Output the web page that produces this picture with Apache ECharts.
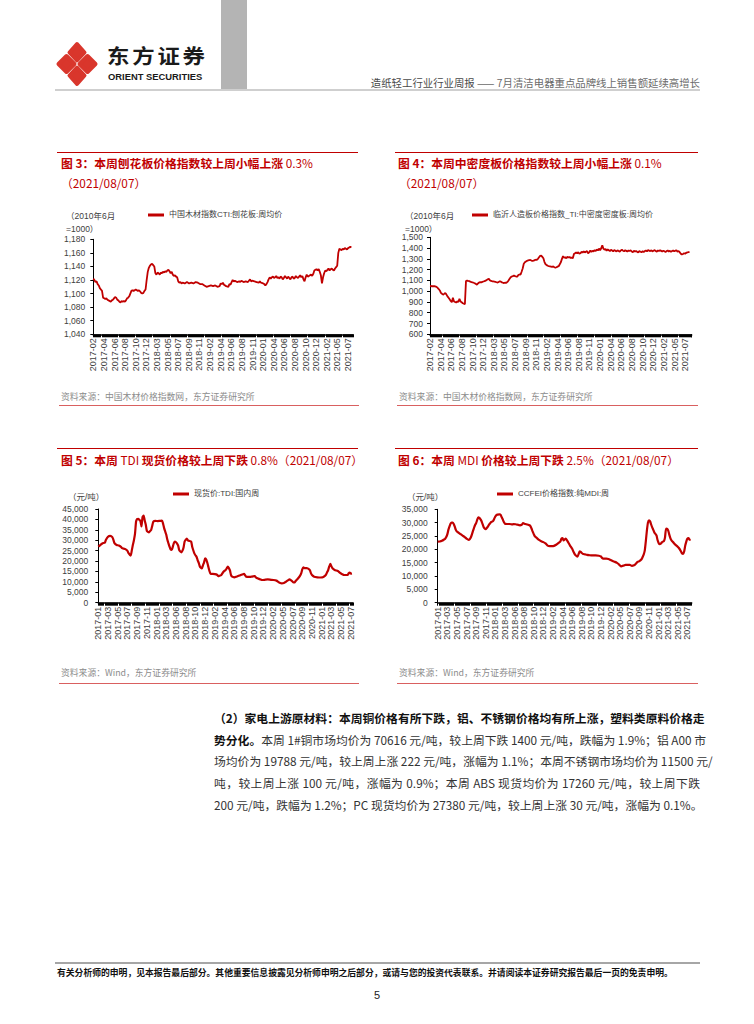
<!DOCTYPE html>
<html><head><meta charset="utf-8">
<script src="https://cdn.jsdelivr.net/npm/echarts@6/dist/echarts.min.js"></script>
<style>
html,body{margin:0;padding:0;background:#fff;}
#page{position:relative;width:754px;height:1024px;overflow:hidden;font-family:'Noto Sans CJK SC','Liberation Sans',sans-serif;color:#222;}
.abs{position:absolute;white-space:nowrap;}
.ttl{font-size:11.8px;line-height:20px;color:#C00000;}
.ttl b{font-weight:700;}
.src{font-size:8.8px;line-height:12px;color:#8c8c8c;}
.rline{position:absolute;height:1px;background:#C00000;}
.bline{position:absolute;height:1px;background:#d96060;}
.para{position:absolute;left:214px;width:486px;font-size:11.8px;line-height:21.7px;color:#333;text-align:justify;text-align-last:justify;white-space:nowrap;}
.chart{position:absolute;}
</style></head>
<body><div id="page">

<!-- header -->
<svg class="abs" style="left:55px;top:40px" width="46" height="48" viewBox="0 0 46 48">
  <g fill="#d9362c" stroke="#d9362c" stroke-width="4" stroke-linejoin="round">
    <polygon points="22,4 29.5,12.5 22,20.5 14.5,12.5"/>
    <polygon points="32.5,16 40.5,24 32.5,32 24.5,24"/>
    <polygon points="22,27.5 29.5,35.5 22,44 14.5,35.5"/>
    <polygon points="11.5,16 19.5,24 11.5,32 3.5,24"/>
  </g>
</svg>
<div class="abs" style="left:107px;top:46.3px;font-size:20px;line-height:20px;font-weight:700;letter-spacing:2.5px;color:#1a1a1a;transform:scaleX(1.12);transform-origin:left center;">东方证券</div>
<div class="abs" style="left:108px;top:71.7px;font-size:9.4px;line-height:9.4px;font-weight:700;font-family:'Liberation Sans',sans-serif;color:#1a1a1a;">ORIENT SECURITIES</div>
<div class="abs" style="left:221px;top:0;width:26px;height:89px;background:#b4b4b4;"></div>
<div class="abs" style="right:54px;top:76px;font-size:10.4px;line-height:14px;color:#6b6b6b;"><span style="color:#4a4a4a">造纸轻工行业行业周报</span> —— 7月清洁电器重点品牌线上销售额延续高增长</div>
<div class="abs" style="left:55px;top:89px;width:645px;height:1.5px;background:#cfcfcf;"></div>

<!-- panel 3 -->
<div class="rline" style="left:57px;top:152px;width:301px;"></div>
<div class="abs ttl" style="left:61px;top:153px;"><b>图 3：本周刨花板价格指数较上周小幅上涨</b> 0.3%</div>
<div class="abs ttl" style="left:61px;top:173px;">（2021/08/07）</div>
<div id="c3" class="chart" style="left:57px;top:200px;width:302px;height:185px;"></div>
<div class="abs src" style="left:61px;top:391px;">资料来源：中国木材价格指数网，东方证券研究所</div>
<div class="bline" style="left:59px;top:405px;width:300px;"></div>

<!-- panel 4 -->
<div class="rline" style="left:395px;top:152px;width:303px;"></div>
<div class="abs ttl" style="left:398px;top:153px;"><b>图 4：本周中密度板价格指数较上周小幅上涨</b> 0.1%</div>
<div class="abs ttl" style="left:399px;top:173px;">（2021/08/07）</div>
<div id="c4" class="chart" style="left:395px;top:200px;width:303px;height:185px;"></div>
<div class="abs src" style="left:399px;top:391px;">资料来源：中国木材价格指数网，东方证券研究所</div>
<div class="bline" style="left:397px;top:405px;width:301px;"></div>

<!-- panel 5 -->
<div class="rline" style="left:57px;top:448px;width:301px;"></div>
<div class="abs ttl" style="left:61px;top:450px;"><b>图 5：本周</b> TDI <b>现货价格较上周下跌</b> 0.8%（2021/08/07）</div>
<div id="c5" class="chart" style="left:57px;top:480px;width:302px;height:190px;"></div>
<div class="abs src" style="left:61px;top:667px;">资料来源：Wind，东方证券研究所</div>
<div class="bline" style="left:59px;top:683px;width:300px;"></div>

<!-- panel 6 -->
<div class="rline" style="left:395px;top:448px;width:303px;"></div>
<div class="abs ttl" style="left:398px;top:450px;"><b>图 6：本周</b> MDI <b>价格较上周下跌</b> 2.5%（2021/08/07）</div>
<div id="c6" class="chart" style="left:395px;top:480px;width:303px;height:190px;"></div>
<div class="abs src" style="left:399px;top:667px;">资料来源：Wind，东方证券研究所</div>
<div class="bline" style="left:397px;top:683px;width:301px;"></div>

<!-- paragraph -->
<div class="para" style="top:707px;"><b style="color:#111">（2）家电上游原材料：本周铜价格有所下跌，铝、不锈钢价格均有所上涨，塑料类原料价格走</b></div>
<div class="para" style="top:728.7px;"><b style="color:#111">势分化。</b>本周 1#铜市场均价为 70616 元/吨，较上周下跌 1400 元/吨，跌幅为 1.9%；铝 A00 市</div>
<div class="para" style="top:750.4px;">场均价为 19788 元/吨，较上周上涨 222 元/吨，涨幅为 1.1%；本周不锈钢市场均价为 11500 元/</div>
<div class="para" style="top:772.1px;">吨，较上周上涨 100 元/吨，涨幅为 0.9%；本周 ABS 现货均价为 17260 元/吨，较上周下跌</div>
<div class="para" style="top:793.8px;">200 元/吨，跌幅为 1.2%；PC 现货均价为 27380 元/吨，较上周上涨 30 元/吨，涨幅为 0.1%。</div>

<!-- footer -->
<div class="abs" style="left:55px;top:962px;width:645px;height:1.5px;background:#a6a6a6;"></div>
<div class="abs" style="left:57px;top:967px;font-size:8.8px;line-height:12px;font-weight:700;color:#111;">有关分析师的申明，见本报告最后部分。其他重要信息披露见分析师申明之后部分，或请与您的投资代表联系。并请阅读本证券研究报告最后一页的免责申明。</div>
<div class="abs" style="left:371px;top:988px;width:12px;text-align:center;font-size:11px;line-height:14px;color:#222;font-family:'Liberation Sans',sans-serif;">5</div>

</div>
<script>
// ---------- tick labels ----------
const ticksWood = ['2017-02','2017-04','2017-06','2017-08','2017-10','2017-12','2018-03','2018-05','2018-07','2018-09','2018-11','2019-02','2019-04','2019-06','2019-08','2019-11','2020-01','2020-04','2020-06','2020-08','2020-10','2020-12','2021-02','2021-05','2021-07'];
const ticksChem = ['2017-01','2017-03','2017-05','2017-07','2017-09','2017-11','2018-01','2018-03','2018-06','2018-08','2018-10','2018-12','2019-02','2019-04','2019-06','2019-08','2019-10','2019-12','2020-02','2020-05','2020-07','2020-09','2020-11','2021-01','2021-03','2021-05','2021-07'];

// ---------- series names ----------
const name3 = '中国木材指数CTI:刨花板:周均价';
const name4 = '临沂人造板价格指数_TI:中密度密度板:周均价';
const name5 = '现货价:TDI:国内周';
const name6 = 'CCFEI价格指数:纯MDI:周';

// ---------- series values: [week index, value] ----------
const particleBoard = [[0,1122],[1,1120],[2,1117],[3,1118],[4,1114],[5,1112],[6,1108],[7,1106],[8,1104],[9,1094],[10,1093],[11,1092],[12,1093],[13,1091],[14,1090],[15,1089],[16,1088],[17,1090],[18,1091],[19,1093],[20,1095],[21,1094],[22,1091],[23,1090],[24,1088],[25,1087],[26,1089],[27,1088],[28,1089],[29,1088],[30,1090],[31,1093],[32,1094],[33,1096],[34,1100],[35,1104],[36,1105],[37,1104],[38,1105],[39,1106],[40,1105],[41,1104],[42,1105],[43,1103],[44,1101],[45,1100],[46,1101],[47,1104],[48,1106],[49,1120],[50,1132],[51,1138],[52,1141],[53,1143],[54,1144],[55,1142],[56,1140],[57,1130],[58,1128],[59,1131],[60,1130],[61,1128],[62,1131],[63,1130],[64,1132],[65,1131],[66,1133],[67,1132],[68,1134],[69,1135],[70,1133],[71,1130],[72,1132],[73,1128],[74,1126],[75,1127],[76,1125],[77,1124],[78,1118],[79,1116],[80,1117],[81,1115],[82,1116],[84,1115],[86,1117],[88,1115],[90,1116],[92,1115],[94,1117],[96,1116],[98,1114],[100,1114],[102,1112],[104,1110],[106,1111],[108,1112],[110,1111],[112,1112],[114,1110],[116,1111],[117,1115],[118,1114],[119,1116],[120,1113],[122,1111],[124,1110],[125,1114],[126,1113],[127,1117],[128,1120],[129,1118],[130,1119],[132,1117],[134,1118],[135,1117],[136,1119],[138,1117],[140,1118],[142,1117],[144,1121],[145,1118],[146,1119],[148,1118],[150,1117],[152,1116],[153,1118],[154,1116],[156,1115],[157,1114],[158,1112],[159,1114],[160,1117],[161,1121],[162,1124],[163,1122],[164,1124],[165,1125],[166,1123],[167,1124],[168,1126],[169,1123],[170,1124],[171,1122],[172,1125],[173,1124],[174,1121],[175,1123],[176,1126],[177,1124],[178,1122],[179,1125],[180,1123],[181,1121],[182,1124],[183,1125],[184,1122],[185,1123],[186,1126],[187,1124],[188,1123],[189,1125],[190,1127],[191,1124],[192,1126],[193,1121],[194,1118],[195,1124],[196,1128],[197,1125],[198,1126],[199,1127],[200,1128],[201,1126],[202,1129],[203,1134],[204,1135],[205,1136],[206,1134],[207,1136],[208,1132],[209,1127],[210,1115],[211,1124],[212,1130],[213,1134],[214,1133],[215,1135],[216,1137],[217,1134],[218,1136],[219,1137],[220,1135],[221,1134],[222,1137],[223,1139],[224,1141],[225,1160],[226,1166],[227,1165],[228,1164],[229,1166],[230,1165],[231,1167],[232,1166],[233,1165],[234,1167],[235,1168],[236,1169],[237,1168]];

const mdfBoard = [[0,1048],[2,1046],[4,1047],[6,1040],[7,1031],[8,1020],[9,1007],[10,985],[11,976],[12,968],[13,975],[14,983],[15,970],[16,952],[17,940],[18,925],[19,910],[20,898],[21,940],[22,905],[23,900],[24,895],[25,905],[26,900],[27,930],[28,905],[29,898],[30,888],[31,885],[32,880],[33,1093],[34,1098],[35,1095],[36,1093],[37,1088],[38,1084],[39,1082],[40,1078],[41,1074],[42,1068],[43,1060],[44,1072],[45,1080],[46,1084],[47,1082],[48,1086],[49,1090],[50,1093],[51,1098],[52,1104],[53,1110],[54,1115],[55,1100],[56,1096],[57,1092],[58,1090],[59,1088],[60,1086],[61,1083],[62,1080],[63,1086],[64,1092],[65,1088],[66,1082],[67,1078],[68,1076],[69,1079],[70,1077],[71,1086],[72,1100],[73,1115],[74,1129],[75,1136],[76,1140],[77,1145],[78,1140],[79,1136],[80,1135],[81,1150],[82,1155],[83,1153],[84,1180],[85,1210],[86,1255],[87,1268],[88,1276],[89,1282],[90,1285],[91,1288],[92,1290],[93,1284],[94,1280],[95,1283],[96,1288],[97,1292],[98,1290],[99,1300],[100,1315],[101,1328],[102,1330],[103,1318],[104,1305],[105,1270],[106,1250],[107,1242],[108,1236],[109,1232],[110,1230],[111,1228],[112,1225],[113,1230],[114,1222],[115,1218],[116,1222],[117,1228],[118,1232],[119,1250],[120,1268],[121,1300],[122,1325],[123,1310],[124,1315],[125,1305],[126,1320],[127,1312],[128,1318],[129,1308],[130,1312],[131,1305],[132,1345],[133,1352],[134,1360],[135,1350],[136,1362],[137,1348],[138,1352],[139,1365],[140,1358],[141,1370],[142,1360],[143,1366],[144,1372],[145,1352],[146,1360],[147,1378],[148,1365],[149,1375],[150,1368],[151,1382],[152,1372],[153,1388],[154,1378],[155,1395],[156,1380],[157,1398],[158,1425],[159,1395],[160,1385],[161,1392],[162,1375],[163,1388],[164,1380],[165,1372],[166,1385],[167,1378],[168,1370],[169,1382],[170,1375],[171,1368],[172,1380],[173,1372],[174,1366],[175,1378],[176,1384],[177,1376],[178,1370],[179,1380],[180,1374],[181,1368],[182,1378],[183,1372],[184,1380],[185,1368],[186,1362],[187,1374],[188,1368],[189,1372],[190,1365],[191,1360],[192,1372],[193,1366],[194,1362],[195,1370],[196,1364],[197,1372],[198,1378],[199,1370],[200,1382],[201,1376],[202,1372],[203,1380],[204,1368],[205,1376],[206,1382],[207,1372],[208,1366],[209,1378],[210,1372],[211,1380],[212,1374],[213,1368],[214,1376],[215,1370],[216,1364],[217,1372],[218,1378],[219,1368],[220,1374],[221,1366],[222,1372],[223,1378],[224,1370],[225,1376],[226,1380],[227,1366],[228,1372],[229,1362],[230,1348],[231,1340],[232,1345],[233,1352],[234,1348],[235,1356],[236,1360],[237,1362],[238,1365]];

const tdiPrice = [[0,26900],[2,27800],[4,28600],[6,28800],[7,30100],[9,31700],[11,32100],[13,31500],[14,30200],[15,28600],[17,27700],[19,27500],[21,26800],[22,26200],[24,25900],[25,25700],[27,24900],[28,23800],[30,22600],[31,25000],[32,27700],[33,30000],[34,33000],[35,39000],[36,40200],[37,40300],[38,39800],[39,39300],[40,36600],[41,41200],[42,41800],[43,39500],[44,37400],[45,34500],[46,34000],[47,33800],[48,34400],[49,35000],[50,37000],[51,38900],[53,39300],[55,39200],[57,39300],[59,39400],[60,38000],[61,35800],[62,34200],[63,32600],[64,30200],[65,28500],[66,26900],[67,25600],[68,25300],[69,26800],[70,28600],[71,29400],[72,29000],[73,28400],[74,27400],[75,25200],[76,24600],[77,24200],[78,25000],[79,26500],[80,29400],[81,30200],[82,30800],[83,29900],[84,29700],[86,29400],[87,26900],[88,25200],[89,23700],[90,22800],[91,22100],[92,20500],[93,19200],[94,17500],[95,16800],[96,16500],[97,18000],[98,19400],[99,21300],[100,20800],[101,19200],[102,17200],[103,15200],[104,13800],[106,13800],[108,13700],[110,13400],[111,12800],[112,12900],[114,13300],[116,14900],[118,15700],[119,16500],[120,17300],[121,16600],[122,15500],[123,13200],[124,12500],[126,12200],[128,12500],[130,12900],[132,13300],[134,13700],[135,13800],[136,13200],[137,12500],[140,12400],[142,12500],[144,12700],[145,12800],[146,12200],[148,11600],[150,11200],[152,10900],[154,11000],[157,11200],[160,11000],[162,10900],[165,10600],[167,9900],[168,9600],[170,9300],[172,9500],[174,10100],[176,10800],[177,11200],[179,10600],[181,9700],[182,9800],[183,10500],[185,11600],[187,13000],[188,14100],[189,16000],[190,17000],[191,16600],[193,16600],[194,16500],[196,15700],[197,14200],[198,13300],[200,12500],[203,12200],[206,12100],[208,12200],[210,12900],[211,13500],[212,14600],[213,15700],[214,17400],[215,18600],[216,17500],[217,16500],[219,15700],[222,15200],[224,14300],[226,13700],[228,13300],[231,13300],[232,14100],[233,14400],[234,14000],[235,14100]];

const mdiPrice = [[0,22900],[2,22950],[4,23200],[6,23700],[7,24000],[8,24600],[9,25600],[10,27300],[11,28500],[12,29600],[13,30000],[14,30000],[15,29500],[16,28500],[17,27300],[18,26700],[19,26400],[21,25800],[23,25200],[25,24700],[27,24000],[29,23550],[30,23800],[31,24400],[32,25500],[33,26800],[34,28000],[35,29100],[36,29800],[37,31000],[38,31950],[39,31800],[40,31300],[41,30600],[42,29500],[43,28400],[44,27800],[45,27600],[46,28000],[47,28500],[48,29200],[49,29700],[50,30200],[51,30400],[52,30700],[53,31500],[54,32300],[55,32800],[56,33000],[58,33100],[59,32900],[60,32000],[61,31200],[62,30200],[63,29600],[65,29500],[67,29500],[69,29400],[70,29300],[71,29500],[73,29400],[75,29200],[77,29000],[79,29300],[80,29800],[82,29500],[84,29300],[86,29000],[87,28600],[88,27700],[89,26600],[90,25700],[91,24900],[93,24200],[95,23500],[97,23000],[99,22700],[101,22200],[103,21400],[105,21200],[107,21200],[109,21300],[111,21700],[113,22300],[115,23000],[116,24000],[117,24200],[118,23300],[119,23700],[120,24000],[121,23500],[122,22800],[124,21400],[126,20200],[127,19300],[128,18500],[129,17900],[131,17300],[132,18200],[133,19200],[134,19000],[136,18300],[138,18100],[140,17900],[142,17800],[145,17700],[148,17700],[151,17600],[153,17300],[154,16800],[155,16500],[158,16500],[160,16400],[162,16000],[164,15600],[166,15300],[168,14900],[170,14300],[172,13600],[174,13900],[176,14200],[178,14200],[180,14200],[182,13800],[184,14000],[185,14300],[187,15200],[189,15600],[191,16300],[192,17100],[193,18000],[194,19500],[195,23000],[196,27000],[197,30000],[198,30900],[199,30500],[200,29300],[201,28200],[202,27300],[203,26300],[204,25800],[205,25200],[206,23500],[207,22400],[208,21900],[209,22100],[210,22600],[211,22900],[212,23100],[213,24500],[214,27800],[215,27700],[216,27000],[217,25500],[218,24200],[219,23400],[220,22900],[221,22500],[222,22000],[224,21300],[226,20500],[228,19200],[229,18400],[230,18300],[231,19300],[232,21500],[233,23000],[234,24000],[235,24200],[236,23600],[237,23500]];

// ---------- chart builder ----------
const FONT = "'Liberation Sans','Noto Sans CJK SC',sans-serif";
function thousands(v){ return String(v).replace(/\B(?=(\d{3})+(?!\d))/g, ','); }
function build(id, o){
  const chart = echarts.init(document.getElementById(id), null, {renderer:'svg'});
  const step = o.step;
  chart.setOption({
    animation:false,
    textStyle:{fontFamily:FONT},
    grid:o.grid,
    legend:{show:true,left:o.legendLeft,top:o.legendTop,padding:0,icon:'rect',itemWidth:16,itemHeight:3,itemGap:5,
      textStyle:{fontSize:8,color:'#404040',fontFamily:FONT},data:[o.name]},
    graphic:[{type:'text',left:o.unitLeft,top:o.unitTop,silent:true,
      style:{text:o.unit,fontSize:8.5,fontFamily:FONT,fill:'#404040',lineHeight:13}}],
    xAxis:{type:'value',min:0,max:o.xmax,interval:step,
      axisLine:{show:true,lineStyle:{color:'#000',width:1.5}},
      axisTick:{show:true,length:3,lineStyle:{color:'#000',width:1}},
      minorTick:{show:true,splitNumber:o.minor,length:3,lineStyle:{color:'#000',width:1}},
      splitLine:{show:false},minorSplitLine:{show:false},
      axisLabel:{rotate:90,margin:4,fontSize:9,color:'#404040',fontFamily:FONT,showMaxLabel:true,
        formatter:function(v){const k=Math.round(v/step);return (Math.abs(v-k*step)<1e-6 && o.ticks[k])?o.ticks[k]:'';}}},
    yAxis:{type:'value',min:o.ymin,max:o.ymax,interval:o.yint,
      axisLine:{show:true,lineStyle:{color:'#000',width:1}},
      axisTick:{show:true,length:3,lineStyle:{color:'#000',width:1}},
      splitLine:{show:false},
      axisLabel:{fontSize:8.5,color:'#404040',margin:o.ymargin,fontFamily:FONT,formatter:thousands}},
    series:[{type:'line',name:o.name,data:o.data,showSymbol:false,smooth:o.smooth||false,
      lineStyle:{color:'#C00000',width:o.lw},itemStyle:{color:'#C00000'}}]
  });
}

build('c3',{grid:{left:36.3,right:6,top:39.3,bottom:50.7},legendLeft:91,legendTop:11,unitLeft:9,unitTop:9,
  unit:'（2010年6月\n=1000）',name:name3,data:particleBoard,ticks:ticksWood,step:9.75,minor:10,xmax:238.5,
  ymin:1040,ymax:1180,yint:20,ymargin:8,lw:1.8});
build('c4',{grid:{left:35,right:6.3,top:37.3,bottom:50.7},legendLeft:77,legendTop:11,unitLeft:10,unitTop:9,
  unit:'（2010年6月\n=1000）',name:name4,data:mdfBoard,ticks:ticksWood,step:9.75,minor:10,xmax:240,
  ymin:600,ymax:1500,yint:100,ymargin:7,lw:1.8});
build('c5',{grid:{left:41.3,right:6,top:29,bottom:67.3},legendLeft:116,legendTop:10,unitLeft:11,unitTop:10,
  unit:'（元/吨）',name:name5,data:tdiPrice,ticks:ticksChem,step:9,minor:9,xmax:236,
  ymin:0,ymax:45000,yint:5000,ymargin:10,lw:2.2,smooth:0.2});
build('c6',{grid:{left:42.7,right:6.3,top:29.3,bottom:67.3},legendLeft:102,legendTop:10,unitLeft:12,unitTop:10,
  unit:'（元/吨）',name:name6,data:mdiPrice,ticks:ticksChem,step:9,minor:9,xmax:238,
  ymin:0,ymax:35000,yint:5000,ymargin:10,lw:2.2,smooth:0.2});
</script>
</body></html>
